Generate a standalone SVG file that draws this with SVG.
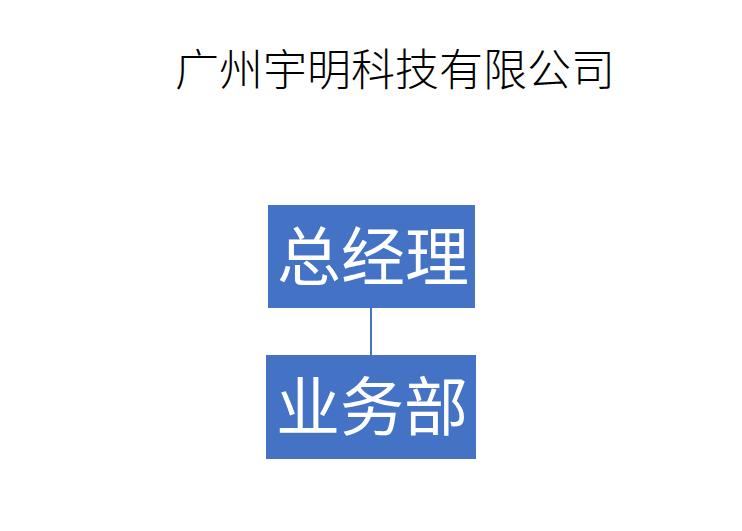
<svg xmlns="http://www.w3.org/2000/svg" width="742" height="531" viewBox="0 0 742 531">
<style>
.box{fill:#4472C4;}
.lbl{font-family:"Noto Sans CJK SC","Noto Sans",sans-serif;font-size:64px;font-weight:400;fill:#fff;text-anchor:middle;dominant-baseline:central;}
.title{font-family:"Noto Sans CJK SC","Noto Sans",sans-serif;font-size:44px;font-weight:300;fill:#000;text-anchor:middle;dominant-baseline:central;}
.conn{stroke:#4472C4;stroke-width:2;fill:none;}
</style>
<rect width="742" height="531" fill="#fff"/>
<text class="title" x="395" y="67">广州宇明科技有限公司</text>
<g id="connectors">
<line class="conn" x1="371" y1="308" x2="371" y2="355"/>
</g>
<g id="node-gm">
<rect class="box" x="268" y="205" width="207" height="103"/>
<text class="lbl" x="373" y="252">总经理</text>
</g>
<g id="node-biz">
<rect class="box" x="266" y="355" width="210" height="104"/>
<text class="lbl" x="372" y="402">业务部</text>
</g>
</svg>
